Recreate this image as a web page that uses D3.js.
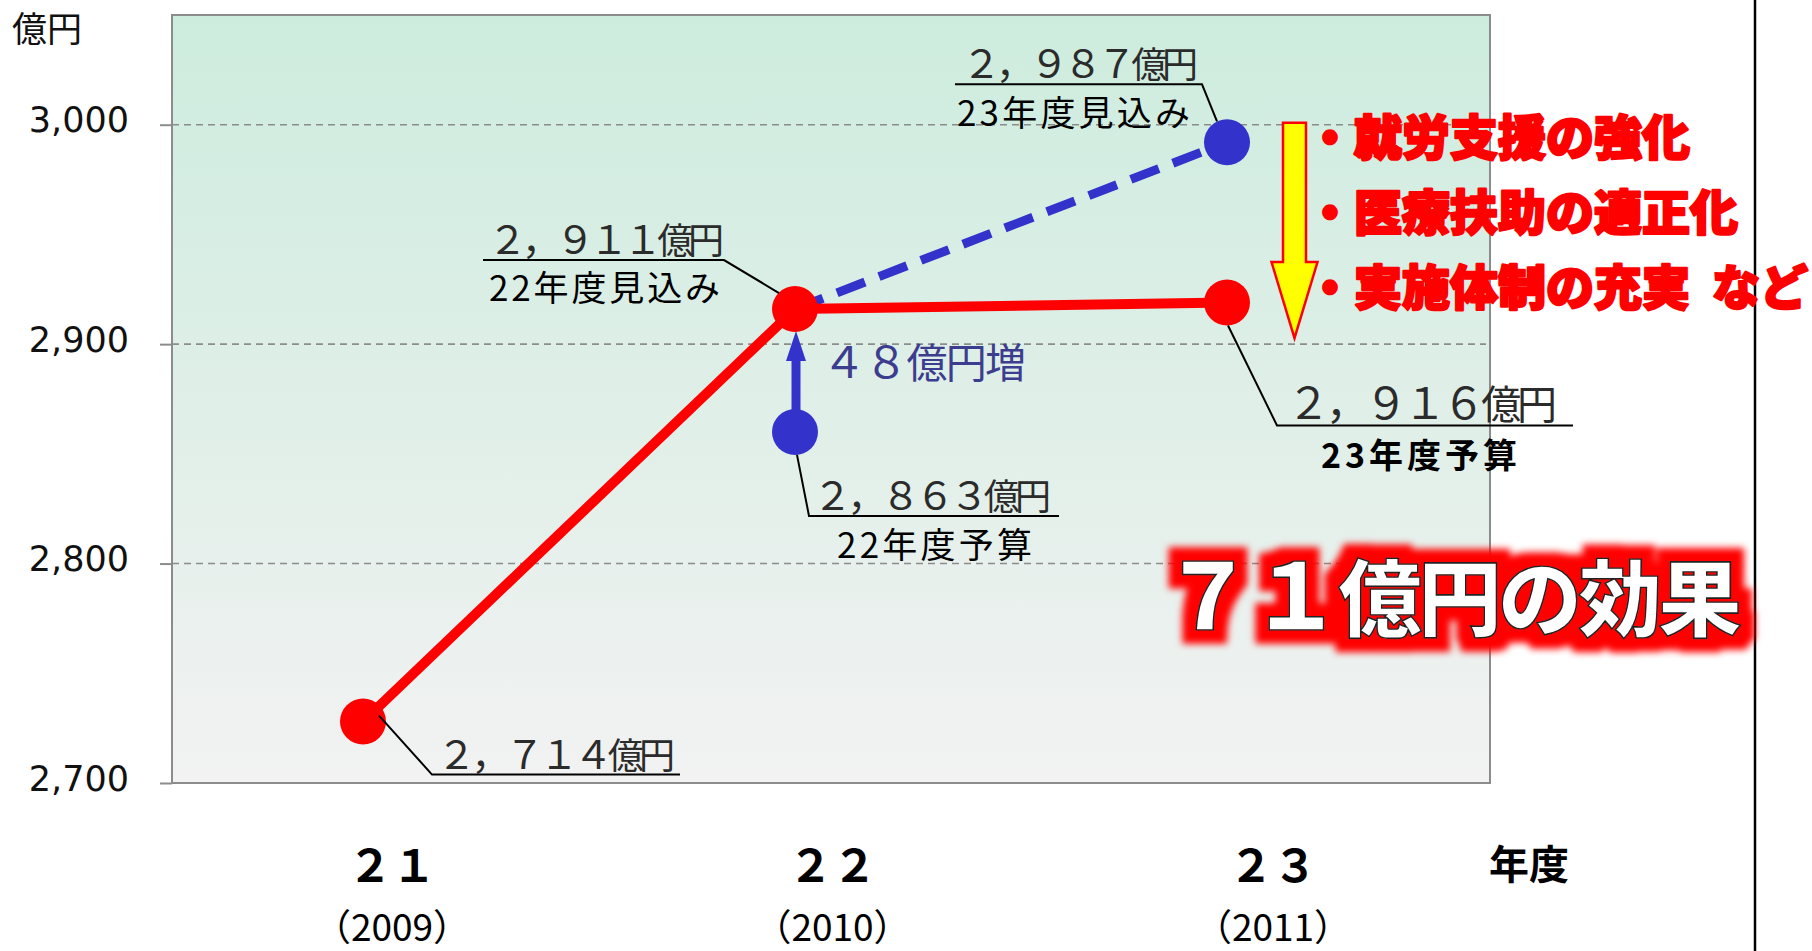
<!DOCTYPE html>
<html><head><meta charset="utf-8">
<script src="https://cdn.jsdelivr.net/npm/d3@7"></script>
<style>html,body{margin:0;padding:0;background:#fff;overflow:hidden}svg{display:block}</style>
</head><body>
<svg id="chart" width="1812" height="951"></svg>
<script>
// ---------- data ----------
const categories = ["２１", "２２", "２３"];
const yearLabels = ["（2009）", "（2010）", "（2011）"];
const unitLabel = "億円";
const xUnitLabel = "年度";
const yTicks = [2700, 2800, 2900, 3000];
const redValues = [2728, 2916, 2919];          // 21決算, 22見込み, 23予算 (plotted positions)
const blueIdx = [1, 2];
const blueValues = [2860, 2992];               // 22予算, 23見込み
const dashIdx = [1, 2];
const dashValues = [2916, 2992];               // 22見込み -> 23見込み
const valueLabels = ["２，７１４億円", "２，９１１億円", "２，８６３億円", "２，９８７億円", "２，９１６億円"];
const subLabels = ["", "22年度見込み", "22年度予算", "23年度見込み", "23年度予算"];
const increaseLabel = "４８億円増";
const measures = ["・就労支援の強化", "・医療扶助の適正化", "・実施体制の充実"];
const measuresSuffix = "など";
const effectLabel = "７１億円の効果";

// ---------- layout ----------
const plot = {l: 172, t: 15, r: 1490, b: 783};
const svg = d3.select("#chart");
const defs = svg.append("defs");
const grad = defs.append("linearGradient").attr("id", "bg").attr("x1", 0).attr("y1", 0).attr("x2", 0).attr("y2", 1);
grad.append("stop").attr("offset", "0%").attr("stop-color", "#cdecde");
grad.append("stop").attr("offset", "100%").attr("stop-color", "#f2f2f2");

// red glow halo filter (single text element)
const glow = defs.append("filter").attr("id", "glow").attr("x", "-15%").attr("y", "-50%").attr("width", "130%").attr("height", "200%");
glow.append("feMorphology").attr("in", "SourceAlpha").attr("operator", "dilate").attr("radius", 13).attr("result", "d");
glow.append("feFlood").attr("flood-color", "#ff0000").attr("result", "f");
glow.append("feComposite").attr("in", "f").attr("in2", "d").attr("operator", "in").attr("result", "c");
glow.append("feGaussianBlur").attr("in", "c").attr("stdDeviation", 3.5).attr("result", "b");
const gm = glow.append("feMerge");
gm.append("feMergeNode").attr("in", "b");
gm.append("feMergeNode").attr("in", "SourceGraphic");

const x = d3.scaleLinear().domain([0, 2]).range([363, 1227]);
const xLab = d3.scaleLinear().domain([0, 2]).range([392, 1273]);
const y = d3.scaleLinear().domain([2700, 3050]).range([plot.b, plot.t]);
const JP = "'Noto Sans CJK JP', 'Noto Sans', sans-serif";

// one text element: leading digit run slightly larger than the kanji part, fitted to a width
function twoSizeText(g, x0, base, width, str, fsNum, fsKan, attrs) {
  const m = str.match(/^([０-９，0-9,]+)(.*)$/);
  const t = g.append("text").attr("x", x0).attr("y", base).attr("font-family", JP)
    .attr("textLength", width).attr("lengthAdjust", "spacing");
  Object.entries(attrs || {}).forEach(([k, v]) => t.attr(k, v));
  t.append("tspan").attr("font-size", fsNum).text(m ? m[1] : str);
  if (m) t.append("tspan").attr("font-size", fsKan).text(m[2]);
  return t;
}

// background
svg.append("rect").attr("x", plot.l).attr("y", plot.t)
  .attr("width", plot.r - plot.l).attr("height", plot.b - plot.t).attr("fill", "url(#bg)");

// gridlines
svg.append("g").selectAll("line").data(yTicks.filter(d => d > 2700)).join("line")
  .attr("x1", plot.l).attr("x2", plot.r - 4).attr("y1", d => y(d)).attr("y2", d => y(d))
  .attr("stroke", "#8c8c8c").attr("stroke-width", 1.6).attr("stroke-dasharray", "7,5");

// border
svg.append("rect").attr("x", plot.l).attr("y", plot.t)
  .attr("width", plot.r - plot.l).attr("height", plot.b - plot.t)
  .attr("fill", "none").attr("stroke", "#8c8c8c").attr("stroke-width", 2);

// y axis
const yAxis = d3.axisLeft(y).tickValues(yTicks).tickSize(12).tickPadding(31).tickFormat(d3.format(","));
const ga = svg.append("g").attr("transform", `translate(${plot.l},0)`).call(yAxis);
ga.select(".domain").remove();
ga.selectAll(".tick line").attr("stroke", "#8c8c8c").attr("stroke-width", 2);
ga.selectAll(".tick text").attr("font-family", "'DejaVu Sans', Verdana, sans-serif")
  .attr("font-size", 35).attr("fill", "#111").attr("dy", "0.2em");

// unit label
svg.append("text").attr("x", 12).attr("y", 42).attr("font-family", JP).attr("font-size", 35)
  .attr("fill", "#111").text(unitLabel);

// x labels
svg.append("g").selectAll("text").data(categories).join("text")
  .attr("x", (d, i) => xLab(i)).attr("y", 882).attr("text-anchor", "middle")
  .attr("font-family", JP).attr("font-weight", "bold").attr("font-size", 44).attr("fill", "#000").text(d => d);
svg.append("g").selectAll("text").data(yearLabels).join("text")
  .attr("x", (d, i) => xLab(i)).attr("y", 941).attr("text-anchor", "middle")
  .attr("font-family", JP).attr("font-size", 37).attr("fill", "#000").text(d => d);
svg.append("text").attr("x", 1529).attr("y", 879).attr("text-anchor", "middle")
  .attr("font-family", JP).attr("font-weight", "bold").attr("font-size", 40).attr("fill", "#000").text(xUnitLabel);

// right frame line
svg.append("line").attr("x1", 1755).attr("x2", 1755).attr("y1", 0).attr("y2", 951)
  .attr("stroke", "#000").attr("stroke-width", 2.5);

// blue dashed line
svg.append("path").datum(dashIdx.map((d, k) => [d, dashValues[k]]))
  .attr("d", d3.line().x(d => x(d[0])).y(d => y(d[1])))
  .attr("fill", "none").attr("stroke", "#3333cc").attr("stroke-width", 9).attr("stroke-dasharray", "30,15");

// red line
svg.append("path").datum(redValues)
  .attr("d", d3.line().x((d, i) => x(i)).y(d => y(d)))
  .attr("fill", "none").attr("stroke", "#ff0000").attr("stroke-width", 10).attr("stroke-linejoin", "round");

// blue arrow (22予算 -> 22見込み)
{
  const ax = x(1) + 1;
  const yFrom = y(blueValues[0]) - 20;
  const yTip = y(redValues[1]) + 22;
  const headH = 30;
  svg.append("line").attr("x1", ax).attr("x2", ax).attr("y1", yFrom).attr("y2", yTip + headH - 1)
    .attr("stroke", "#3333cc").attr("stroke-width", 9);
  svg.append("path").attr("d", `M${ax - 10},${yTip + headH} L${ax},${yTip} L${ax + 10},${yTip + headH} Z`)
    .attr("fill", "#3333cc");
  twoSizeText(svg, ax + 26, yTip + 47, 204, increaseLabel, 44, 41, {fill: "#3d3d8f"});
}

// dots
svg.append("g").selectAll("circle").data(redValues).join("circle")
  .attr("cx", (d, i) => x(i)).attr("cy", d => y(d)).attr("r", 23).attr("fill", "#ff0000");
svg.append("g").selectAll("circle").data(blueValues).join("circle")
  .attr("cx", (d, k) => x(blueIdx[k])).attr("cy", d => y(d)).attr("r", 23).attr("fill", "#3333cc");

// annotations (offsets relative to their dot)
const annSpecs = [
  {px: x(0), py: y(redValues[0]), l1: [16, -6], l2: [69, 53], ulEnd: 317, tx: 74, tw: 238, tb: 47, fn: 39, fk: 36, sx: 0, sw: 0, sb: 0, sfs: 34, bold: false},
  {px: x(1), py: y(redValues[1]), l1: [-16, -16], l2: [-71, -49], ulEnd: -312, tx: -307, tw: 236, tb: -55, fn: 39, fk: 36, sx: -306, sw: 231, sb: -8, sfs: 35, bold: false},
  {px: x(1), py: y(blueValues[0]), l1: [2, 23], l2: [14, 84], ulEnd: 264, tx: 18, tw: 238, tb: 78, fn: 39, fk: 36, sx: 42, sw: 195, sb: 126, sfs: 35, bold: false},
  {px: x(2), py: y(blueValues[1]), l1: [-10, -21], l2: [-25, -58], ulEnd: -272, tx: -265, tw: 236, tb: -64, fn: 39, fk: 36, sx: -270, sw: 233, sb: -16, sfs: 35, bold: false},
  {px: x(2), py: y(redValues[2]), l1: [1, 23], l2: [50, 123], ulEnd: 346, tx: 60, tw: 270, tb: 117, fn: 43, fk: 40, sx: 94, sw: 196, sb: 166, sfs: 34, bold: true}
];
const ag = svg.append("g");
annSpecs.forEach((s, k) => {
  const p1 = [s.px + s.l1[0], s.py + s.l1[1]];
  const p2 = [s.px + s.l2[0], s.py + s.l2[1]];
  const p3 = [s.px + s.ulEnd, p2[1]];
  ag.append("path").attr("d", `M${p1[0]},${p1[1]} L${p2[0]},${p2[1]} L${p3[0]},${p3[1]}`)
    .attr("fill", "none").attr("stroke", "#000").attr("stroke-width", 2);
  twoSizeText(ag, s.px + s.tx, s.py + s.tb, s.tw, valueLabels[k], s.fn, s.fk, {fill: "#2b2b2b"});
  if (subLabels[k]) {
    ag.append("text").attr("x", s.px + s.sx).attr("y", s.py + s.sb).attr("font-family", JP)
      .attr("font-size", s.sfs).attr("font-weight", s.bold ? "bold" : "normal")
      .attr("fill", "#000").attr("textLength", s.sw).text(subLabels[k]);
  }
});

// yellow arrow
{
  const cx = 1294.5, top = y(3000) - 2, headTop = 262, tip = y(2900) - 6;
  svg.append("path")
    .attr("d", `M${cx - 11.5},${top} L${cx + 11.5},${top} L${cx + 11.5},${headTop} L${cx + 23},${headTop} L${cx},${tip} L${cx - 23},${headTop} L${cx - 11.5},${headTop} Z`)
    .attr("fill", "#ffff00").attr("stroke", "#ff0000").attr("stroke-width", 2.5).attr("stroke-linejoin", "miter");
}

// measures
svg.append("g").selectAll("text").data(measures).join("text")
  .attr("x", 1306).attr("y", (d, i) => 155 + i * 75)
  .attr("font-family", JP).attr("font-weight", 900).attr("font-size", 48).attr("fill", "#ff0000")
  .attr("stroke", "#ff0000").attr("stroke-width", 2.4).attr("stroke-linejoin", "round").text(d => d);
svg.append("text").attr("x", 1712).attr("y", 155 + 2 * 75)
  .attr("font-family", JP).attr("font-weight", 900).attr("font-size", 48).attr("fill", "#ff0000")
  .attr("stroke", "#ff0000").attr("stroke-width", 2.4).attr("stroke-linejoin", "round").text(measuresSuffix);

// effect label with red glow
twoSizeText(svg, 1162, 630, 580, effectLabel, 92, 84, {"font-weight": 900, fill: "#ffffff", stroke: "#222",
  "stroke-width": 1.6, filter: "url(#glow)"});
</script>
</body></html>
